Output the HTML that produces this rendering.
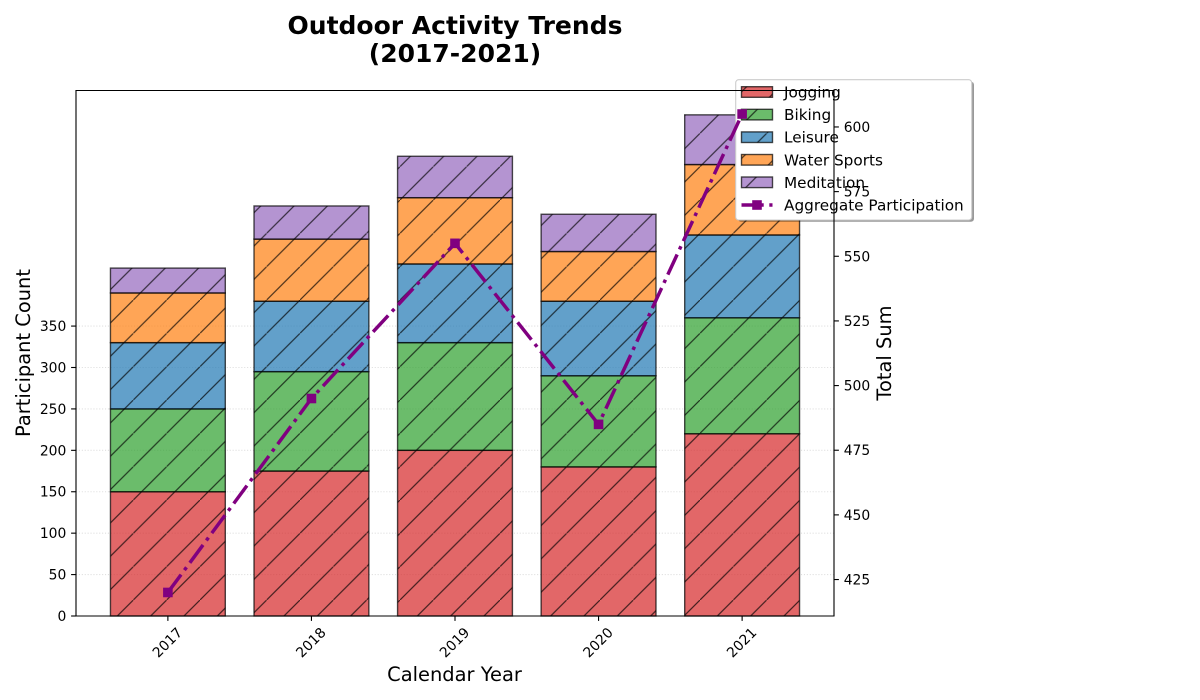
<!DOCTYPE html>
<html>
<head>
<meta charset="utf-8">
<title>Outdoor Activity Trends</title>
<style>
html,body{margin:0;padding:0;background:#fff;width:1200px;height:700px;overflow:hidden}
svg{display:block}
text{font-family:"DejaVu Sans","Liberation Sans",sans-serif;fill:#000}
</style>
</head>
<body>
<svg id="chart" xmlns="http://www.w3.org/2000/svg" width="1200" height="700" viewBox="0 0 1200 700">
  <defs>
    <pattern id="hatch" patternUnits="userSpaceOnUse" width="33.333" height="33.333">
      <line x1="-2" y1="35.333" x2="35.333" y2="-2" stroke="#000" stroke-width="1.2"/>
    </pattern>
  </defs>
  <rect width="1200" height="700" fill="#fff"/>
  <g id="grid"></g>
  <g id="bars"></g>
  <g id="legend"></g>
  <g id="line"></g>
  <g id="axes"></g>
  <text x="455" y="34" text-anchor="middle" font-size="25" font-weight="700">Outdoor Activity Trends</text>
  <text x="455" y="62" text-anchor="middle" font-size="25" font-weight="700">(2017-2021)</text>
  <text x="454.5" y="681" text-anchor="middle" font-size="19.44">Calendar Year</text>
  <text transform="translate(30,353) rotate(-90)" text-anchor="middle" font-size="19.44">Participant Count</text>
  <text transform="translate(891,353) rotate(-90)" text-anchor="middle" font-size="19.44">Total Sum</text>
</svg>
<script>
const years = ['2017', '2018', '2019', '2020', '2021'];
const seriesNames = ['Jogging', 'Biking', 'Leisure', 'Water Sports', 'Meditation'];
const jogging = [150, 175, 200, 180, 220];
const biking = [100, 120, 130, 110, 140];
const leisure = [80, 85, 95, 90, 100];
const waterSports = [60, 75, 80, 60, 85];
const meditation = [30, 40, 50, 45, 60];
const aggregate = [420, 495, 555, 485, 605];
const leftTicks = [0, 50, 100, 150, 200, 250, 300, 350];
const rightTicks = [425, 450, 475, 500, 525, 550, 575, 600];
const lineName = 'Aggregate Participation';

const SVG_NS = 'http://www.w3.org/2000/svg';
const colors = ['#d62728', '#2ca02c', '#1f77b4', '#ff7f0e', '#9467bd'];
const plot = {left: 76, right: 834, top: 90.5, bottom: 616};
const xDomain = [-0.64, 4.64];
const leftDomain = [0, 634.4];
const rightDomain = [410.9, 614.1];
const barWidth = 0.8;

function xScale(i) {
  return plot.left + (i - xDomain[0]) / (xDomain[1] - xDomain[0]) * (plot.right - plot.left);
}
function yLeft(v) {
  return plot.bottom - (v - leftDomain[0]) / (leftDomain[1] - leftDomain[0]) * (plot.bottom - plot.top);
}
function yRight(v) {
  return plot.bottom - (v - rightDomain[0]) / (rightDomain[1] - rightDomain[0]) * (plot.bottom - plot.top);
}
function make(parent, tag, attrs, text) {
  const el = document.createElementNS(SVG_NS, tag);
  for (const k in attrs) el.setAttribute(k, attrs[k]);
  if (text !== undefined) el.textContent = text;
  parent.appendChild(el);
  return el;
}
function hatchedRect(parent, x, y, w, h) {
  return [
    make(parent, 'rect', {x: x, y: y, width: w, height: h, fill: 'url(#hatch)', 'fill-opacity': 0.7}),
    make(parent, 'rect', {x: x, y: y, width: w, height: h, fill: 'none', stroke: '#000', 'stroke-opacity': 0.7, 'stroke-width': 1.39})
  ];
}

const gridLayer = document.getElementById('grid');
leftTicks.forEach(function (t) {
  if (t === 0) return;
  const gl = make(gridLayer, 'line', {x1: plot.left, x2: plot.right, y1: yLeft(t), y2: yLeft(t), stroke: '#b0b0b0', 'stroke-opacity': 0.4, 'stroke-width': 1.1, 'stroke-dasharray': '1.1 1.8'});
  
  
});

const barLayer = document.getElementById('bars');
const allSeries = [jogging, biking, leisure, waterSports, meditation];
years.forEach(function (year, i) {
  let base = 0;
  allSeries.forEach(function (values, s) {
    const v = values[i];
    const x0 = xScale(i - barWidth / 2);
    const w = xScale(i + barWidth / 2) - x0;
    const yTop = yLeft(base + v);
    const h = yLeft(base) - yTop;
    const g = make(barLayer, 'g', {});
    
    
    make(g, 'rect', {x: x0, y: yTop, width: w, height: h, fill: colors[s], 'fill-opacity': 0.7});
    hatchedRect(g, x0, yTop, w, h);
    base += v;
  });
});

const legendLayer = document.getElementById('legend');
const shadow = make(legendLayer, 'rect', {x: 738, y: 81.7, width: 236, height: 140, rx: 3, ry: 3, fill: '#000', 'fill-opacity': 0.4});


const frame = make(legendLayer, 'rect', {x: 735.7, y: 79.7, width: 236, height: 140.3, rx: 3, ry: 3, fill: '#fff', stroke: '#ccc', 'stroke-width': 1.1});


const rowY = [92, 114.6, 137.2, 159.8, 182.3, 205];
seriesNames.forEach(function (name, s) {
  const g = make(legendLayer, 'g', {});
  
  
  const cy = rowY[s];
  make(g, 'rect', {x: 741.5, y: cy - 5.3, width: 31, height: 10.6, fill: colors[s], 'fill-opacity': 0.7});
  hatchedRect(g, 741.5, cy - 5.3, 31, 10.6);
  make(g, 'text', {x: 784, y: cy + 5.5, 'font-size': 15.28}, name);
});
const lineEntry = make(legendLayer, 'g', {});


make(lineEntry, 'line', {x1: 741.5, x2: 772.5, y1: rowY[5], y2: rowY[5], stroke: 'purple', 'stroke-width': 3.47, 'stroke-dasharray': '22.2 5.6 3.5 5.6'});
make(lineEntry, 'rect', {x: 752.2, y: rowY[5] - 4.8, width: 9.6, height: 9.6, fill: 'purple'});
make(lineEntry, 'text', {x: 784, y: rowY[5] + 5.5, 'font-size': 15.28}, lineName);

const lineLayer = document.getElementById('line');
const pts = aggregate.map(function (v, i) { return xScale(i) + ',' + yRight(v); }).join(' ');
const poly = make(lineLayer, 'polyline', {points: pts, fill: 'none', stroke: 'purple', 'stroke-width': 3.47, 'stroke-dasharray': '22.2 5.6 3.5 5.6', 'stroke-linejoin': 'round'});


aggregate.forEach(function (v, i) {
  const m = make(lineLayer, 'rect', {x: xScale(i) - 4.8, y: yRight(v) - 4.8, width: 9.6, height: 9.6, fill: 'purple'});
  
  
});

const axesLayer = document.getElementById('axes');
const spines = [
  ['spine-left', plot.left, plot.top, plot.left, plot.bottom],
  ['spine-right', plot.right, plot.top, plot.right, plot.bottom],
  ['spine-top', plot.left, plot.top, plot.right, plot.top],
  ['spine-bottom', plot.left, plot.bottom, plot.right, plot.bottom]
];
spines.forEach(function (s) {
  const sp = make(axesLayer, 'line', {x1: s[1] - (s[1] === s[3] ? 0 : 0.55), y1: s[2], x2: s[3] + (s[1] === s[3] ? 0 : 0.55), y2: s[4], stroke: '#000', 'stroke-width': 1.11});
  
  
});
leftTicks.forEach(function (t) {
  const y = yLeft(t);
  const tk = make(axesLayer, 'line', {x1: plot.left - 4.9, x2: plot.left, y1: y, y2: y, stroke: '#000', 'stroke-width': 1.11});
  
  
  const lb = make(axesLayer, 'text', {x: plot.left - 9.7, y: y + 5, 'text-anchor': 'end', 'font-size': 13.89}, String(t));
  
  
});
rightTicks.forEach(function (t) {
  const y = yRight(t);
  const tk = make(axesLayer, 'line', {x1: plot.right, x2: plot.right + 4.9, y1: y, y2: y, stroke: '#000', 'stroke-width': 1.11});
  
  
  const lb = make(axesLayer, 'text', {x: plot.right + 9.7, y: y + 5, 'font-size': 13.89}, String(t));
  
  
});
years.forEach(function (year, i) {
  const x = xScale(i);
  const tk = make(axesLayer, 'line', {x1: x, x2: x, y1: plot.bottom, y2: plot.bottom + 4.9, stroke: '#000', 'stroke-width': 1.11});
  
  
  const lb = make(axesLayer, 'text', {transform: 'translate(' + x + ',' + (plot.bottom + 27) + ') rotate(-45)', 'text-anchor': 'middle', 'dominant-baseline': 'central', 'font-size': 13.89}, year);
  
  
});
</script>
</body>
</html>
